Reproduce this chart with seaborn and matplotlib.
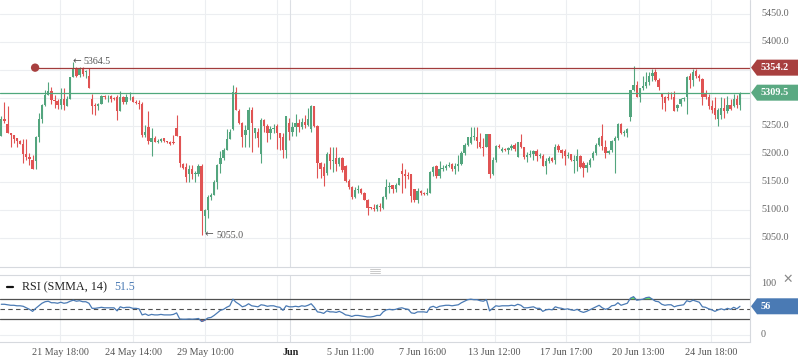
import numpy as np
import pandas as pd
import matplotlib
matplotlib.use("Agg")
import matplotlib.pyplot as plt
import seaborn as sns
from matplotlib.patches import Polygon
from matplotlib.lines import Line2D
from matplotlib.transforms import IdentityTransform

# ---------------- data ----------------
opens = [5232, 5262, 5254, 5238, 5234, 5229, 5223, 5218, 5200, 5194,
         5189, 5187, 5231, 5262, 5288, 5305, 5313, 5297, 5294, 5288,
         5299, 5286, 5298, 5338, 5352, 5341, 5354, 5346, 5339, 5299,
         5288, 5285, 5289, 5303, 5301, 5303, 5300, 5302, 5276, 5301,
         5293, 5301, 5302, 5293, 5291, 5289, 5234, 5248, 5222, 5229,
         5222, 5224, 5228, 5223, 5222, 5221, 5246, 5232, 5182, 5176,
         5164, 5174, 5164, 5164, 5179, 5090, 5100, 5124, 5127, 5150,
         5183, 5192, 5207, 5226, 5245, 5310, 5277, 5256, 5234, 5242,
         5279, 5237, 5240, 5200, 5261, 5250, 5238, 5245, 5250, 5237,
         5231, 5207, 5255, 5240, 5249, 5256, 5248, 5258, 5252, 5245,
         5286, 5250, 5184, 5177, 5166, 5200, 5187, 5192, 5182, 5192,
         5179, 5152, 5141, 5124, 5136, 5138, 5130, 5118, 5104, 5104,
         5101, 5108, 5103, 5123, 5141, 5145, 5137, 5145, 5170, 5164,
         5162, 5164, 5137, 5118, 5134, 5131, 5128, 5131, 5167, 5178,
         5160, 5174, 5175, 5178, 5182, 5173, 5178, 5182, 5201, 5216,
         5220, 5231, 5230, 5222, 5213, 5212, 5236, 5164, 5189, 5214,
         5206, 5209, 5207, 5211, 5216, 5194, 5222, 5213, 5195, 5198,
         5200, 5205, 5197, 5197, 5178, 5187, 5192, 5189, 5214, 5207,
         5205, 5197, 5200, 5187, 5188, 5196, 5184, 5175, 5180, 5192,
         5202, 5216, 5232, 5213, 5202, 5207, 5224, 5228, 5254, 5238,
         5238, 5266, 5314, 5323, 5301, 5317, 5321, 5329, 5339, 5347,
         5333, 5307, 5302, 5302, 5302, 5302, 5282, 5290, 5298, 5301,
         5339, 5332, 5348, 5340, 5334, 5309, 5301, 5285, 5282, 5263,
         5270, 5282, 5277, 5287, 5285, 5298, 5287]
closes = [5262, 5259, 5238, 5234, 5227, 5223, 5218, 5200, 5194, 5191,
          5173, 5231, 5262, 5288, 5305, 5313, 5296, 5294, 5288, 5299,
          5288, 5298, 5338, 5352, 5340, 5353, 5343, 5347, 5318, 5286,
          5285, 5290, 5303, 5301, 5302, 5299, 5298, 5276, 5302, 5293,
          5301, 5302, 5293, 5291, 5289, 5234, 5240, 5224, 5228, 5222,
          5224, 5227, 5223, 5221, 5218, 5219, 5232, 5184, 5175, 5159,
          5174, 5164, 5166, 5179, 5099, 5100, 5124, 5127, 5150, 5180,
          5192, 5207, 5226, 5240, 5310, 5279, 5256, 5231, 5242, 5279,
          5255, 5246, 5229, 5261, 5250, 5238, 5245, 5247, 5238, 5229,
          5207, 5268, 5240, 5249, 5256, 5248, 5258, 5252, 5262, 5286,
          5250, 5184, 5174, 5161, 5200, 5187, 5189, 5182, 5192, 5171,
          5152, 5141, 5124, 5136, 5138, 5131, 5118, 5103, 5103, 5101,
          5109, 5105, 5123, 5141, 5143, 5137, 5145, 5157, 5164, 5161,
          5160, 5125, 5118, 5134, 5130, 5128, 5131, 5167, 5176, 5160,
          5174, 5175, 5178, 5180, 5173, 5178, 5182, 5201, 5216, 5230,
          5231, 5232, 5224, 5212, 5210, 5236, 5164, 5189, 5214, 5212,
          5209, 5207, 5211, 5214, 5209, 5222, 5213, 5195, 5198, 5200,
          5205, 5197, 5198, 5178, 5187, 5192, 5188, 5212, 5207, 5202,
          5197, 5198, 5189, 5188, 5196, 5176, 5175, 5180, 5190, 5202,
          5216, 5228, 5214, 5202, 5206, 5224, 5228, 5254, 5237, 5240,
          5245, 5314, 5323, 5302, 5317, 5321, 5329, 5339, 5345, 5333,
          5320, 5302, 5291, 5300, 5301, 5277, 5288, 5298, 5300, 5338,
          5332, 5346, 5340, 5335, 5301, 5301, 5285, 5279, 5270, 5279,
          5282, 5277, 5287, 5281, 5298, 5287, 5309.5]
highs = [5267, 5293, 5285, 5238, 5234, 5229, 5225, 5227, 5226, 5202,
         5198, 5233, 5273, 5290, 5314, 5329, 5320, 5306, 5298, 5317,
         5318, 5303, 5338, 5364.5, 5356, 5356, 5356, 5350, 5353, 5307,
         5291, 5291, 5305, 5305, 5305, 5305, 5302, 5305, 5312, 5303,
         5307, 5310, 5303, 5296, 5297, 5293, 5252, 5277, 5246, 5233,
         5227, 5229, 5229, 5224, 5224, 5234, 5269, 5232, 5184, 5184,
         5180, 5180, 5169, 5182, 5183, 5102, 5126, 5130, 5153, 5183,
         5205, 5210, 5245, 5245, 5323, 5320, 5280, 5258, 5252, 5284,
         5284, 5246, 5246, 5264, 5263, 5254, 5250, 5254, 5254, 5237,
         5237, 5268, 5264, 5257, 5272, 5262, 5265, 5270, 5282, 5287,
         5286, 5252, 5186, 5184, 5204, 5212, 5212, 5212, 5195, 5195,
         5180, 5155, 5142, 5141, 5145, 5140, 5132, 5119, 5106, 5110,
         5110, 5113, 5125, 5155, 5150, 5145, 5148, 5158, 5184, 5173,
         5168, 5164, 5138, 5140, 5136, 5133, 5140, 5169, 5178, 5180,
         5187, 5180, 5183, 5185, 5184, 5184, 5198, 5205, 5220, 5230,
         5248, 5248, 5248, 5238, 5228, 5236, 5236, 5195, 5216, 5218,
         5213, 5210, 5213, 5218, 5220, 5222, 5235, 5213, 5204, 5207,
         5207, 5209, 5201, 5200, 5193, 5196, 5195, 5218, 5218, 5209,
         5209, 5203, 5200, 5198, 5209, 5199, 5188, 5186, 5193, 5206,
         5220, 5230, 5254, 5225, 5208, 5225, 5232, 5256, 5256, 5242,
         5246, 5314, 5357, 5330, 5318, 5339, 5346, 5346, 5352, 5352,
         5336, 5308, 5303, 5310, 5310, 5313, 5290, 5300, 5302, 5339,
         5345, 5352, 5352, 5342, 5335, 5314, 5307, 5297, 5302, 5282,
         5302, 5300, 5304, 5298, 5307, 5305, 5310]
lows = [5232, 5255, 5238, 5213, 5220, 5213, 5218, 5184, 5190, 5180,
        5173, 5173, 5222, 5255, 5286, 5305, 5290, 5282, 5281, 5280,
        5279, 5286, 5298, 5337, 5337, 5337, 5339, 5335, 5318, 5271,
        5270, 5279, 5289, 5298, 5292, 5292, 5296, 5260, 5276, 5290,
        5289, 5296, 5292, 5289, 5281, 5230, 5230, 5218, 5196, 5221,
        5220, 5222, 5221, 5219, 5216, 5218, 5232, 5177, 5173, 5150,
        5150, 5155, 5150, 5160, 5055, 5061, 5086, 5118, 5127, 5137,
        5166, 5190, 5207, 5226, 5243, 5279, 5253, 5212, 5213, 5212,
        5204, 5229, 5212, 5184, 5240, 5222, 5226, 5238, 5209, 5207,
        5193, 5193, 5225, 5233, 5232, 5240, 5244, 5246, 5250, 5240,
        5248, 5157, 5157, 5143, 5162, 5174, 5168, 5170, 5178, 5168,
        5150, 5138, 5120, 5121, 5130, 5129, 5117, 5091, 5101, 5098,
        5098, 5098, 5102, 5120, 5130, 5130, 5132, 5144, 5130, 5140,
        5155, 5114, 5114, 5112, 5126, 5126, 5126, 5130, 5160, 5158,
        5158, 5170, 5172, 5177, 5170, 5165, 5170, 5180, 5198, 5215,
        5218, 5225, 5210, 5210, 5196, 5212, 5157, 5162, 5185, 5210,
        5204, 5205, 5200, 5208, 5205, 5194, 5210, 5191, 5186, 5195,
        5190, 5188, 5192, 5178, 5165, 5184, 5186, 5183, 5203, 5193,
        5180, 5193, 5187, 5166, 5170, 5175, 5159, 5168, 5177, 5190,
        5198, 5214, 5208, 5193, 5200, 5204, 5166, 5225, 5236, 5232,
        5230, 5259, 5313, 5301, 5293, 5315, 5318, 5324, 5330, 5330,
        5315, 5280, 5276, 5296, 5298, 5276, 5277, 5286, 5295, 5271,
        5318, 5322, 5336, 5331, 5287, 5299, 5280, 5273, 5263, 5250,
        5262, 5265, 5273, 5279, 5284, 5283, 5279]
rsi = [60, 60, 59, 58, 58, 57, 57, 56, 53, 50,
       46, 52, 57, 62, 65, 66, 63, 63, 62, 64,
       62, 63, 66, 68, 66, 67, 65, 65, 62, 52,
       52, 53, 54, 53, 53, 53, 53, 47, 55, 53,
       54, 54, 52, 52, 51, 39, 41, 38, 40, 39,
       39, 40, 39, 39, 39, 40, 43, 31, 30.5, 30.5,
       31, 30.5, 31, 32, 26, 28.5, 33, 34, 38, 43,
       48, 50, 54, 57, 70, 64, 60, 55, 57, 61,
       57, 56, 55, 59, 58, 56, 57, 57, 55, 54,
       48, 57, 55, 55, 56, 55, 57, 56, 58, 61,
       54, 45, 44, 42, 47, 45, 45, 44, 46, 43,
       39, 38, 36, 38, 38, 37, 36, 35, 35, 36,
       38, 38, 45, 49, 50, 49, 50, 52, 53, 51,
       50, 43, 42, 45, 45, 45, 44, 54, 56, 53,
       56, 57, 58, 58, 57, 58, 59, 63, 66, 69,
       70, 69, 69, 67, 66, 69, 47, 52, 57, 56,
       57, 57, 57, 58, 57, 60, 58, 53, 53, 54,
       55, 52, 52, 46, 49, 50, 49, 55, 53, 52,
       50, 51, 49, 48, 50, 46, 44, 46, 49, 52,
       55, 58, 53, 50, 52, 57, 58, 63, 58, 60,
       62, 72, 75, 68, 69, 70, 73, 74, 70, 66,
       65, 60, 58, 59, 59, 55, 57, 58, 59, 67,
       65, 68, 66, 64, 55, 54, 51, 49, 46, 49,
       51, 49, 52, 50, 54, 51, 56]

tick_labels = ['21 May 18:00', '24 May 14:00', '29 May 10:00', '', 'Jun',
               '5 Jun 11:00', '7 Jun 16:00', '13 Jun 12:00', '17 Jun 17:00',
               '20 Jun 13:00', '24 Jun 18:00']
tick_pos = [18.85, 42.17, 65.2, 88.2, 92.3, 111.5, 134.5, 157.6, 180.5, 203.6, 226.7]
price_grid = [5050, 5100, 5150, 5200, 5250, 5300, 5350, 5400, 5450]
price_labels_shown = [5050, 5100, 5150, 5200, 5250, 5400, 5450]
last_price = 5309.5
level_price = 5354.2
level_start = 10.8
high_mark = (23, 5364.5)
low_mark = (64, 5055.0)
rsi_last = 56
rsi_header = 51.5

# ---------------- style ----------------
sns.set_theme(style="white")
plt.rcParams['font.family'] = ['Liberation Serif', 'DejaVu Sans']

GREEN = '#53a57e'
RED = '#e05353'
GRID = '#eceef1'
SPINE = '#d6d9de'

df = pd.DataFrame({'i': np.arange(len(closes)), 'open': opens, 'close': closes,
                   'high': highs, 'low': lows, 'rsi': rsi})
up = df['close'] >= df['open']
cols = np.where(up, GREEN, RED)

W, H = 798, 363
fig = plt.figure(figsize=(W / 100, H / 100), dpi=100)
fig.patch.set_facecolor('white')
ax = fig.add_axes([0, 1 - 267 / H, 750 / W, 267 / H])
rax = fig.add_axes([0, 1 - 342 / H, 750 / W, 67 / H])

XL = (-0.415, 239.2)
for a in (ax, rax):
    a.set_xlim(*XL)
    a.set_facecolor('white')
    for s in a.spines.values():
        s.set_color(SPINE)
        s.set_linewidth(0.8)
    a.spines['left'].set_visible(False)
    a.spines['right'].set_visible(False)
ax.spines['top'].set_visible(False)
ax.set_ylim(4998.2, 5475)
rax.set_ylim(-14.4, 117.7)

# grids
for p in price_grid:
    ax.axhline(p, color=GRID, lw=0.8, zorder=0)
for t, lab in zip(tick_pos, tick_labels):
    c = '#dcdfe4' if lab == 'Jun' else GRID
    ax.axvline(t, color=c, lw=0.8, zorder=0)
    rax.axvline(t, color=c, lw=0.8, zorder=0)
rax.axhline(0, color=GRID, lw=0.8, zorder=0)

# candles
ax.vlines(df['i'], df['low'], df['high'], colors=cols, lw=0.8, zorder=2)
body = np.maximum((df['close'] - df['open']).abs(), 1.5)
ax.bar(df['i'], body, bottom=np.minimum(df['open'], df['close']), width=0.74,
       color=cols, linewidth=0, zorder=3)

# level lines
ax.hlines(level_price, level_start, XL[1], color='#a23c3c', lw=0.9, zorder=4)
sns.scatterplot(x=[level_start], y=[level_price], ax=ax, color='#a8403f', s=36,
                edgecolor='none', zorder=5, legend=False)
ax.axhline(last_price, color='#4fa87c', lw=0.9, zorder=4)

# high / low annotations (arrow glyph + value)
for (xi, yv), dx in ((high_mark, -0.4), (low_mark, 1.0)):
    ax.annotate('\u2190', xy=(xi + dx, yv), xytext=(0, 0.5), textcoords='offset points',
                va='center', ha='left', fontsize=7.5, color='#555555', family='DejaVu Sans',
                zorder=6)
    ax.annotate(f'{yv:.1f}', xy=(xi + dx, yv), xytext=(8.5, 0), textcoords='offset points',
                va='center', ha='left', fontsize=7.2, color='#555555', zorder=6)

ax.set_xticks([])
ax.set_yticks([])
ax.set_xlabel('')
ax.set_ylabel('')

# price labels at right
for p in price_labels_shown:
    ax.text(761 / 750, p, f'{p:.1f}', transform=ax.get_yaxis_transform(),
            ha='left', va='center', fontsize=7.3, color='#666666', clip_on=False)

# RSI panel
rsi_arr = df['rsi'].to_numpy(dtype=float)
rax.fill_between(df['i'], rsi_arr, 70, where=rsi_arr > 70, interpolate=True,
                 color='#66dd66', lw=0, zorder=2)
rax.fill_between(df['i'], rsi_arr, 30, where=rsi_arr < 30, interpolate=True,
                 color='#e05555', lw=0, zorder=2)
rax.axhline(70, color='#505050', lw=0.9, zorder=1)
rax.axhline(30, color='#505050', lw=0.9, zorder=1)
rax.axhline(50, color='#505050', lw=0.8, ls=(0, (4, 3)), zorder=1)
sns.lineplot(data=df, x='i', y='rsi', ax=rax, color='#4a7ab4', lw=0.9, zorder=3)
rax.set_ylabel('')
rax.set_xlabel('')
rax.set_yticks([])
for v in (100, 0):
    rax.text(761 / 750, v, f'{v}', transform=rax.get_yaxis_transform(),
             ha='left', va='center', fontsize=7.3, color='#666666', clip_on=False)

rax.set_xticks(tick_pos)
rax.set_xticklabels(tick_labels)
rax.tick_params(axis='x', length=0, pad=4, labelsize=7.3, colors='#555555')
for tl in rax.get_xticklabels():
    if tl.get_text() == 'Jun':
        tl.set_fontweight('bold')
        tl.set_color('#222222')

# figure-level decorations (display pixel coordinates, origin bottom-left)
ident = IdentityTransform()
def py(y):
    return H - y

fig.add_artist(Line2D([750, 750], [py(0), py(342)], color=SPINE, lw=0.8, transform=ident))
for yy in (269, 271, 273):
    fig.add_artist(Line2D([370, 380], [py(yy), py(yy)], color='#c9c9c9', lw=0.7, transform=ident))
fig.add_artist(Line2D([7, 13], [py(286.5), py(286.5)], color='#111111', lw=1.6, transform=ident))
fig.text(22.5 / W, py(287) / H, 'RSI (SMMA, 14)', fontsize=8.7, color='#222222', va='center', ha='left')
fig.text(114 / W, py(287) / H, f'{rsi_header}', fontsize=8.5, color='#4a7ab4', va='center', ha='left')
fig.text(788 / W, py(279) / H, '\u2715', fontsize=9, color='#8a8a8a', va='center', ha='center',
         family='DejaVu Sans')

def badge(axis, yval, text, color):
    ypx = axis.transData.transform((0, yval))[1]
    h = 8
    pts = [(751, ypx), (757, ypx + h), (798, ypx + h), (798, ypx - h), (757, ypx - h)]
    fig.add_artist(Polygon(pts, closed=True, facecolor=color, edgecolor='none', transform=ident))
    fig.text(761 / W, ypx / H, text, fontsize=7.3, color='white', weight='bold',
             va='center', ha='left')

badge(ax, level_price, f'{level_price:.1f}', '#a8403f')
badge(ax, last_price, f'{last_price:.1f}', '#5aa982')
badge(rax, rsi_last, f'{rsi_last}', '#4a7ab4')

fig.savefig('out.png', dpi=100)
